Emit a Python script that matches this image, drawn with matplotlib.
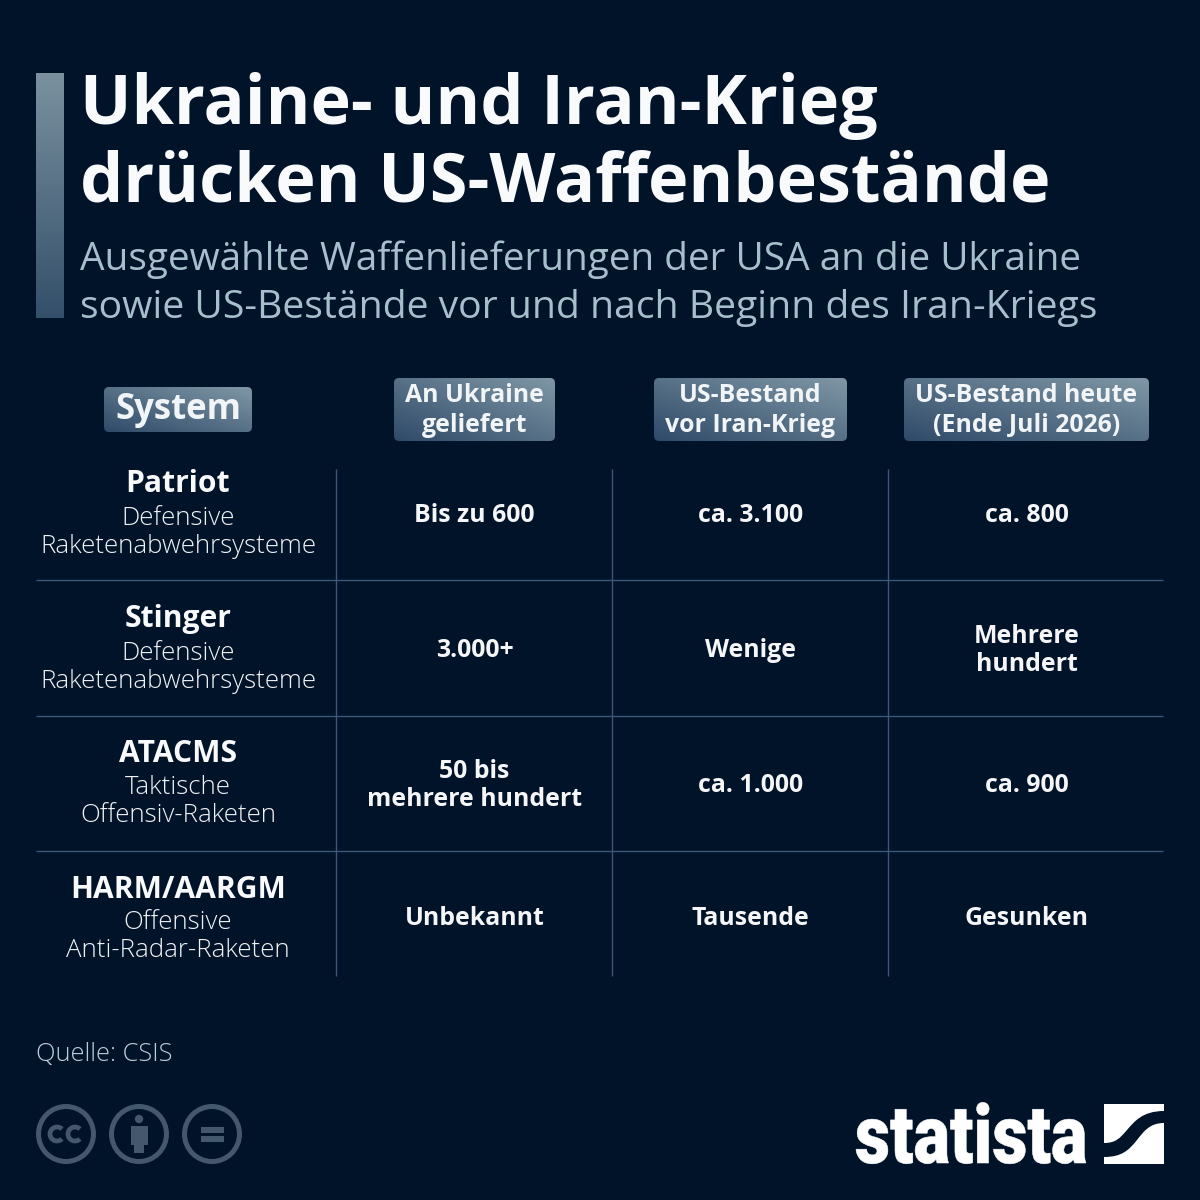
import numpy as np
import matplotlib
matplotlib.use("Agg")
import matplotlib.pyplot as plt
from matplotlib.patches import FancyBboxPatch, Rectangle, Circle, PathPatch, Arc
from matplotlib.path import Path
from matplotlib.patheffects import AbstractPathEffect
from matplotlib.transforms import Affine2D

# ---- content
title_lines = ["Ukraine- und Iran-Krieg", "drücken US-Waffenbestände"]
subtitle_lines = ["Ausgewählte Waffenlieferungen der USA an die Ukraine",
                  "sowie US-Bestände vor und nach Beginn des Iran-Kriegs"]
headers = [["System"], ["An Ukraine", "geliefert"], ["US-Bestand", "vor Iran-Krieg"],
           ["US-Bestand heute", "(Ende Juli 2026)"]]
systems = ["Patriot", "Stinger", "ATACMS", "HARM/AARGM"]
system_desc = [["Defensive", "Raketenabwehrsysteme"],
               ["Defensive", "Raketenabwehrsysteme"],
               ["Taktische", "Offensiv-Raketen"],
               ["Offensive", "Anti-Radar-Raketen"]]
col_ukraine = [["Bis zu 600"], ["3.000+"], ["50 bis", "mehrere hundert"], ["Unbekannt"]]
col_before = [["ca. 3.100"], ["Wenige"], ["ca. 1.000"], ["Tausende"]]
col_today = [["ca. 800"], ["Mehrere", "hundert"], ["ca. 900"], ["Gesunken"]]
source = "Quelle: CSIS"

# ---- style
BG = "#001328"
LINE = "#3c5778"
WHITE = "#f8fafc"
SUB = "#a5c0cc"
ICON = "#43586c"
FONT = "Open Sans"
plt.rcParams["font.family"] = [FONT, "DejaVu Sans"]

fig = plt.figure(figsize=(12, 12), dpi=100, facecolor=BG)
ax = fig.add_axes([0, 0, 1, 1])
ax.set_xlim(0, 1200)
ax.set_ylim(1200, 0)
ax.axis("off")

def px(p):
    return p * 72 / 100

class StretchY(AbstractPathEffect):
    """Stretch drawn glyphs vertically about a baseline given in display pixels."""
    def __init__(self, base, sy, stroke):
        super().__init__()
        self.base, self.sy, self.stroke = base, sy, stroke
    def draw_path(self, renderer, gc, tpath, affine, rgbFace=None):
        new = affine + Affine2D().translate(0, -self.base).scale(1, self.sy).translate(0, self.base)
        g = renderer.new_gc()
        g.copy_properties(gc)
        g.set_linewidth(self.stroke)
        g.set_foreground(rgbFace)
        renderer.draw_path(g, tpath, new, rgbFace)
        g.restore()

def lerp_gradient(x0, y0, x1, y1, c_a, c_b, diagonal):
    n = 128
    u, v = np.meshgrid(np.linspace(0, 1, n), np.linspace(0, 1, n))
    t = (u + (1 - v)) / 2 if diagonal else 1 - v
    a = np.array(matplotlib.colors.to_rgb(c_a))
    b = np.array(matplotlib.colors.to_rgb(c_b))
    img = a[None, None, :] * (1 - t[..., None]) + b[None, None, :] * t[..., None]
    return ax.imshow(img, extent=(x0, x1, y1, y0), aspect="auto", zorder=2, interpolation="bilinear")

# accent bar
lerp_gradient(36, 73, 64, 318, "#344f6a", "#7a919f", False)

# title + subtitle
for line, y in zip(title_lines, [124, 202]):
    ax.text(80.5, y, line, fontsize=px(68.3), fontweight="bold", color=WHITE, va="baseline", ha="left")
for line, y, size in zip(subtitle_lines, [270, 318], [38.77, 39.12]):
    ax.text(80, y, line, fontsize=px(size), color=SUB, va="baseline", ha="left")

# header pills
pills = [(104, 387, 252, 432), (394, 378, 555, 441), (654, 378, 847, 441), (904, 378, 1149, 441)]
centers = [178, 474.5, 750.5, 1026.5]
for (x0, y0, x1, y1), lines, cx in zip(pills, headers, centers):
    im = lerp_gradient(x0, y0, x1, y1, "#2f4a69", "#7f97a5", True)
    clip = FancyBboxPatch((x0 + 5, y0 + 5), x1 - x0 - 10, y1 - y0 - 10,
                          boxstyle="round,pad=5,rounding_size=5", fc="none", ec="none",
                          transform=ax.transData)
    ax.add_patch(clip)
    im.set_clip_path(clip)
    if len(lines) == 1:
        ax.text(cx, 419, lines[0], fontsize=px(34.8), fontweight="bold", color="#f2f5f7",
                ha="center", va="baseline", zorder=3)
    else:
        for line, y in zip(lines, [402, 431.5]):
            ax.text(cx, y, line, fontsize=px(24.9), fontweight="bold", color="#f2f5f7",
                    ha="center", va="baseline", zorder=3)

# grid
for x in [336, 612, 888]:
    ax.plot([x, x], [469, 976], color=LINE, lw=1.0, solid_capstyle="butt", zorder=1)
for y in [580, 716, 851]:
    ax.plot([36, 1163], [y, y], color=LINE, lw=1.0, solid_capstyle="butt", zorder=1)

# first column
name_y = [492, 627, 762, 898]
desc_y = [(525, 553), (660, 688), (794, 822), (929, 957)]
for name, desc, ny, dys in zip(systems, system_desc, name_y, desc_y):
    ax.text(178, ny, name, fontsize=px(30), fontweight="bold", color=WHITE, ha="center", va="baseline")
    for line, y in zip(desc, dys):
        ax.text(178, y, line, fontsize=px(25.9), fontweight="light", color="#f0f3f6", ha="center", va="baseline")

# cells
single_y = [522, 657, 792, 925]
for col, cx in zip([col_ukraine, col_before, col_today], centers[1:]):
    for cell, sy in zip(col, single_y):
        ys = [sy] if len(cell) == 1 else [sy - 14, sy + 14]
        for line, y in zip(cell, ys):
            ax.text(cx, y, line, fontsize=px(24.9), fontweight="bold", color="#f4f6f8",
                    ha="center", va="baseline")

# source
ax.text(36, 1061, source, fontsize=px(25.4), fontweight="light", color="#b6cfd9", ha="left", va="baseline")

# licence icons
icon_x = [66, 139, 212]
for x in icon_x:
    ax.add_patch(Circle((x, 1134), 27.5, fc="none", ec=ICON, lw=3.6))
for dx in [-9, 9]:
    ax.add_patch(Arc((66 + dx, 1134), 14, 14, theta1=45, theta2=315, ec=ICON, lw=3.4))
ax.add_patch(Circle((139, 1119), 4.2, fc=ICON, ec="none"))
ax.add_patch(Rectangle((131, 1126), 17, 19, fc=ICON, ec="none"))
ax.add_patch(Rectangle((134, 1145), 10, 8, fc=ICON, ec="none"))
ax.add_patch(Rectangle((201, 1127), 23, 6, fc=ICON, ec="none"))
ax.add_patch(Rectangle((201, 1136), 23, 6, fc=ICON, ec="none"))

# logo
ax.text(1087, 1163, "statista", fontsize=px(68.5), fontweight="black", family=["Roboto", "Open Sans"],
        color="#ffffff", ha="right", va="baseline",
        path_effects=[StretchY(base=1200 - 1163, sy=1.19, stroke=0.4)])
upper = Path([(1104, 1104), (1164, 1104), (1164, 1111),
              (1142, 1111), (1134, 1122), (1127, 1130),
              (1120, 1138), (1116, 1143), (1104, 1143),
              (1104, 1104)],
             [Path.MOVETO, Path.LINETO, Path.LINETO,
              Path.CURVE4, Path.CURVE4, Path.CURVE4,
              Path.CURVE4, Path.CURVE4, Path.CURVE4,
              Path.CLOSEPOLY])
lower = Path([(1164, 1123),
              (1150, 1123), (1144, 1131), (1137, 1140),
              (1129, 1150), (1122, 1157), (1104, 1157),
              (1104, 1164), (1164, 1164), (1164, 1123)],
             [Path.MOVETO,
              Path.CURVE4, Path.CURVE4, Path.CURVE4,
              Path.CURVE4, Path.CURVE4, Path.CURVE4,
              Path.LINETO, Path.LINETO, Path.CLOSEPOLY])
ax.add_patch(PathPatch(upper, fc="#ffffff", ec="none"))
ax.add_patch(PathPatch(lower, fc="#ffffff", ec="none"))

ax.set_xlim(0, 1200)
ax.set_ylim(1200, 0)
fig.savefig("out.png", dpi=100, facecolor=BG)
